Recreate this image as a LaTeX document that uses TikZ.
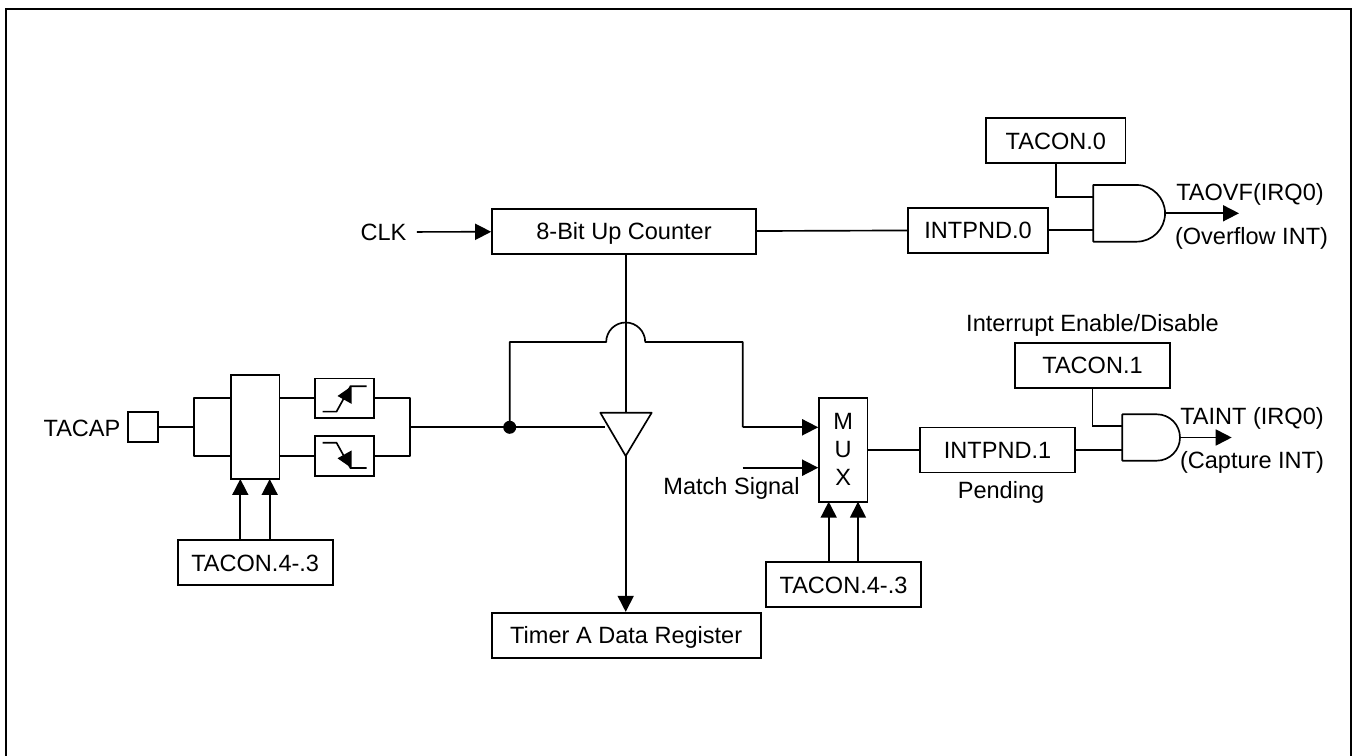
\documentclass[tikz,border=0pt]{standalone}
\usepackage{fontspec}
\setmainfont{Liberation Sans}
\usepackage{tikz}
\usetikzlibrary{arrows.meta}
\tikzset{
  regbox/.style={draw,line width=0.95pt,minimum height=0.9cm,inner sep=0pt,text height=9.6pt,text depth=0pt,font=\fontsize{13.4}{16}\selectfont},
  lbl/.style={inner sep=0pt,text height=9.6pt,text depth=0pt,font=\fontsize{13.4}{16}\selectfont},
  wire/.style={line width=0.95pt},
  arr/.style={line width=0.95pt,-{Triangle[length=0.32cm,width=0.32cm]}}
}

\begin{document}
\begin{tikzpicture}[x=0.02cm,y=-0.02cm]
  \useasboundingbox (0,0) rectangle (1352,756);
  \draw[line width=1.3pt] (6,756) -- (6,9) -- (1351,9) -- (1351,756);
  % top row
  \node[lbl] (clk) at (383.5,232) {CLK};
  \node[regbox,minimum width=5.28cm] (cnt) at (624,231.5) {8-Bit Up Counter};
  \node[regbox,minimum width=2.79cm] (pnd0) at (978,230.2) {INTPND.0};
  \node[regbox,minimum width=2.79cm] (con0) at (1055.8,140.7) {TACON.0};
  \draw[arr,shorten <=0.2cm] (clk) -- (cnt);
  \draw[wire] (cnt) -- (pnd0);
  % first and gate
  \coordinate (gA) at (1093.3,185);
  \coordinate (gAin1) at (1093.3,196.7);
  \coordinate (gAin2) at (1093.3,230.2);
  \coordinate (gAout) at (1165,213.3);
  \coordinate (gAend) at (1239,213.3);
  \draw[wire,line join=round] (gA) -- (1136.7,185) arc[start angle=90,end angle=-90,radius=0.567cm] -- (1093.3,241.7) -- cycle;
  \draw[wire] (pnd0) -- (gAin2);
  \draw[wire] (con0) |- (gAin1);
  \draw[arr] (gAout) -- (gAend);
  \node[lbl] (ovf) at (1250,191.7) {TAOVF(IRQ0)};
  \node[lbl] (ovfint) at (1251.5,235.7) {(Overflow INT)};
  % input side
  \node[lbl] (cap) at (82,428) {TACAP};
  \node[draw,line width=0.95pt,minimum size=0.6cm,inner sep=0pt] (pin) at (143.3,426.7) {};
  \node[draw,line width=0.95pt,minimum width=0.966cm,minimum height=2.08cm] (sel) at (255.2,427) {};
  \node[draw,line width=0.95pt,minimum width=1.168cm,minimum height=0.788cm] (rise) at (344.5,398.3) {};
  \node[draw,line width=0.95pt,minimum width=1.168cm,minimum height=0.788cm] (fall) at (344.5,456) {};
  \node[regbox,minimum width=3.1cm] (conA) at (255.2,562.8) {TACON.4-.3};
  \draw[wire] (rise.center) ++(-22,13.3) -- ++(14,0) -- ++(14,-25.3) -- ++(16,0);
  \fill (rise.center) ++(7,-12) -- ++(0,17.5) -- ++(-14,-7.8) -- cycle;
  \draw[wire] (fall.center) ++(-22,-13.3) -- ++(14,0) -- ++(14,25.3) -- ++(16,0);
  \fill (fall.center) ++(7,12) -- ++(0,-17.5) -- ++(-14,7.8) -- cycle;
  \coordinate (splitL) at (194.3,426.7);
  \coordinate (splitR) at (410,427.3);
  \draw[wire] (pin) -- (splitL);
  \draw[wire,line join=round] (sel.west |- rise) -| (splitL) |- (sel.west |- fall);
  \draw[wire] (sel.east |- rise) -- (rise);
  \draw[wire] (sel.east |- fall) -- (fall);
  \draw[wire,line join=round] (rise) -| (splitR) |- (fall);
  \draw[arr] (240.3,540.3) -- (240.3,479);
  \draw[arr] (269.7,540.3) -- (269.7,479);
  % capture buffer
  \coordinate (bufL) at (600.3,412.7);
  \coordinate (bufR) at (651.7,412.7);
  \coordinate (bufT) at (625.7,412.7);
  \coordinate (bufB) at (625.7,456);
  \coordinate (bufIn) at (605,427.3);
  \draw[wire,line join=round] (bufL) -- (bufR) -- (bufB) -- cycle;
  \node[regbox,minimum width=5.38cm] (reg) at (626.2,635.2) {Timer A Data Register};
  \draw[wire] (cnt.south -| bufT) -- (bufT);
  \draw[arr] (bufB) -- (reg.north -| bufB);
  \coordinate (dot) at (509.7,427.3);
  \draw[wire] (splitR) -- (bufIn);
  \fill (dot) circle (0.13cm);
  % line with hop
  \coordinate (hopL) at (606.2,342);
  \coordinate (turn) at (742.7,342);
  \coordinate (muxA) at (742.7,427.3);
  \coordinate (muxB) at (742.7,467.7);
  \node[draw,line width=0.95pt,minimum width=0.966cm,minimum height=2.08cm] (mux) at (843.2,449.7) {};
  \node[lbl] (m1) at (843.2,421) {M};
  \node[lbl] (m2) at (843.2,449) {U};
  \node[lbl] (m3) at (843.2,476.7) {X};
  \draw[wire,line join=round] (dot) |- (hopL) arc[start angle=180,end angle=0,radius=0.39cm] -- (turn) -- (muxA);
  \draw[arr] (muxA) -- (mux.west |- muxA);
  \draw[arr] (muxB) -- (mux.west |- muxB);
  \node[lbl] (match) at (731.5,485.7) {Match Signal};
  \node[regbox,minimum width=3.1cm] (conB) at (843.5,584.8) {TACON.4-.3};
  \draw[arr] (828.7,562.3) -- (828.7,501.7);
  \draw[arr] (858,562.3) -- (858,501.7);
  % second and gate
  \node[regbox,minimum width=3.1cm] (pnd1) at (997.5,450) {INTPND.1};
  \node[regbox,minimum width=3.1cm] (con1) at (1092.5,365.2) {TACON.1};
  \node[lbl] (pend) at (1001,490.3) {Pending};
  \node[lbl] (enable) at (1092.5,323) {Interrupt Enable/Disable};
  \coordinate (gB) at (1122.3,414.3);
  \coordinate (gBin1) at (1122.3,426);
  \coordinate (gBin2) at (1122.3,450);
  \coordinate (gBout) at (1180,437.5);
  \coordinate (gBend) at (1231.7,437.5);
  \draw[wire,line join=round] (gB) -- (1156.8,414.3) arc[start angle=90,end angle=-90,radius=0.464cm] -- (1122.3,460.7) -- cycle;
  \draw[wire] (mux.east |- pnd1) -- (pnd1);
  \draw[wire] (pnd1) -- (gBin2);
  \draw[wire] (con1) |- (gBin1);
  \draw[arr] (gBout) -- (gBend);
  \node[lbl] (taint) at (1252,416) {TAINT (IRQ0)};
  \node[lbl] (capint) at (1252,460) {(Capture INT)};
\end{tikzpicture}
\end{document}
